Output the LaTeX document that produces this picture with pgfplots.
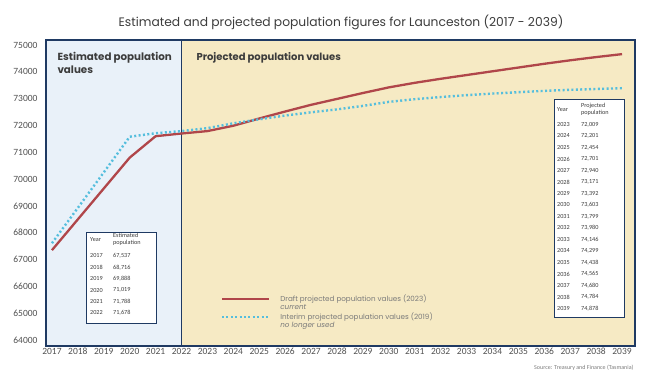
\documentclass[border=0pt]{standalone}
\usepackage{pgfplots}
\pgfplotsset{compat=1.18}
\usepackage{fontspec}
\setmainfont{Carlito}
\newfontfamily\pop{Poppins}
\definecolor{navy}{HTML}{1F3A63}
\definecolor{bgblue}{HTML}{E9F1F9}
\definecolor{bgyel}{HTML}{F6EAC4}
\definecolor{redl}{HTML}{B0464A}
\definecolor{cyanl}{HTML}{55BEDD}
\definecolor{txt}{HTML}{3C3C3C}
\definecolor{lab}{HTML}{505050}
\definecolor{leg}{HTML}{7A7A7A}
\pgfplotsset{longleg/.style={legend image code/.code={\draw[##1] (0pt,0pt) -- (47pt,0pt);}}}
\begin{document}
\begin{tikzpicture}[x=1pt,y=1pt]
\path[use as bounding box] (0,0) rectangle (650,386);
\node[font=\pop\fontsize{12.3}{14}\selectfont, text=txt] at (341,364) {Estimated and projected population figures for Launceston (2017 - 2039)};
\begin{axis}[at={(46pt,40pt)}, anchor=south west, scale only axis, width=589pt, height=306pt,
  xmin=2016.77, xmax=2039.5, ymin=63776, ymax=75187,
  xtick={2017,2018,...,2039}, ytick={64000,65000,...,75000},
  scaled y ticks=false, scaled x ticks=false,
  major tick length=0pt, axis on top,
  axis line style={navy, line width=1.3pt},
  /pgf/number format/assume math mode=true,
  /pgf/number format/set thousands separator={},
  xticklabel style={font=\fontsize{9.5}{10}\selectfont, text=lab, text height=6.5pt, text depth=0pt, inner sep=2pt},
  yticklabel style={font=\fontsize{9.5}{10}\selectfont, text=lab, xshift=-5pt},
  legend style={at={(0.2915,0.18)}, anchor=north west, draw=none, fill=none,
    font=\pop\fontsize{7.2}{8}\selectfont, text=leg, row sep=-2.5pt,
    /tikz/every odd column/.append style={column sep=8pt}},
  legend cell align=left, longleg,
]
\fill[bgblue] (axis cs:2016.77,63776) rectangle (axis cs:2022,75187);
\fill[bgyel] (axis cs:2022,63776) rectangle (axis cs:2039.5,75187);
\draw[navy, line width=1.5pt] (axis cs:2022,63776) -- (axis cs:2022,75187);
\addplot[redl, line width=2.3pt, line join=round] coordinates {
(2017,67350) (2018,68500) (2019,69650) (2020,70800) (2021,71600) (2022,71700)
(2023,71790) (2024,71990) (2025,72260) (2026,72520) (2027,72770) (2028,72990)
(2029,73210) (2030,73420) (2031,73590) (2032,73740) (2033,73880) (2034,74020)
(2035,74160) (2036,74300) (2037,74430) (2038,74550) (2039,74660)};
\addlegendentry{Draft projected population values (2023)}
\addlegendimage{empty legend}
\addlegendentry{\itshape current}
\addplot[cyanl, line width=2.4pt, dash pattern=on 2pt off 2.4pt] coordinates {
(2017,67610) (2018,68930) (2019,70250) (2020,71580) (2021,71710) (2022,71790)
(2023,71900) (2024,72080) (2025,72230) (2026,72370) (2027,72490) (2028,72600)
(2029,72730) (2030,72880) (2031,72980) (2032,73060) (2033,73130) (2034,73190)
(2035,73240) (2036,73290) (2037,73330) (2038,73360) (2039,73390)};
\addlegendentry{Interim projected population values (2019)}
\addlegendimage{empty legend}
\addlegendentry{\itshape no longer used}
\end{axis}
% region labels
\node[font=\pop\bfseries\fontsize{10.3}{13}\selectfont, text=txt, align=left, anchor=north west] at (54,337) {Estimated population\\values};
\node[font=\pop\bfseries\fontsize{10}{12}\selectfont, text=txt, anchor=north west] at (193,337) {Projected population values};
% left table
\draw[navy, line width=1pt, fill=white] (86,63) rectangle (156,154);
\begin{scope}[every node/.style={font=\fontsize{6.2}{6.5}\selectfont, text=txt, anchor=west, inner sep=0pt}]
\node at (90,146) {Year};
\node at (113,150.5) {Estimated};
\node at (113,143.5) {population};
\foreach \y/\v [count=\i from 0] in {2017/67{,}537, 2018/68{,}716, 2019/69{,}888, 2020/71{,}019, 2021/71{,}788, 2022/71{,}678} {
  \node at (90,{130-11.4*\i}) {\y};
  \node at (113,{130-11.4*\i}) {\v};
}
\end{scope}
% right table
\draw[navy, line width=1pt, fill=white] (554,69) rectangle (624,286);
\begin{scope}[every node/.style={font=\fontsize{6.2}{6.5}\selectfont, text=txt, anchor=west, inner sep=0pt}]
\node at (557,276) {Year};
\node at (581,280.5) {Projected};
\node at (581,273.5) {population};
\foreach \y/\v [count=\i from 0] in {2023/72{,}009, 2024/72{,}201, 2025/72{,}454, 2026/72{,}701, 2027/72{,}940, 2028/73{,}171, 2029/73{,}392, 2030/73{,}603, 2031/73{,}799, 2032/73{,}980, 2033/74{,}146, 2034/74{,}299, 2035/74{,}438, 2036/74{,}565, 2037/74{,}680, 2038/74{,}784, 2039/74{,}878} {
  \node at (557,{261.5-11.5*\i}) {\y};
  \node at (581,{261.5-11.5*\i}) {\v};
}
\end{scope}
\node[font=\fontsize{6}{6.5}\selectfont, text=leg, anchor=east] at (637,18) {Source: Treasury and Finance (Tasmania)};
\end{tikzpicture}
\end{document}
